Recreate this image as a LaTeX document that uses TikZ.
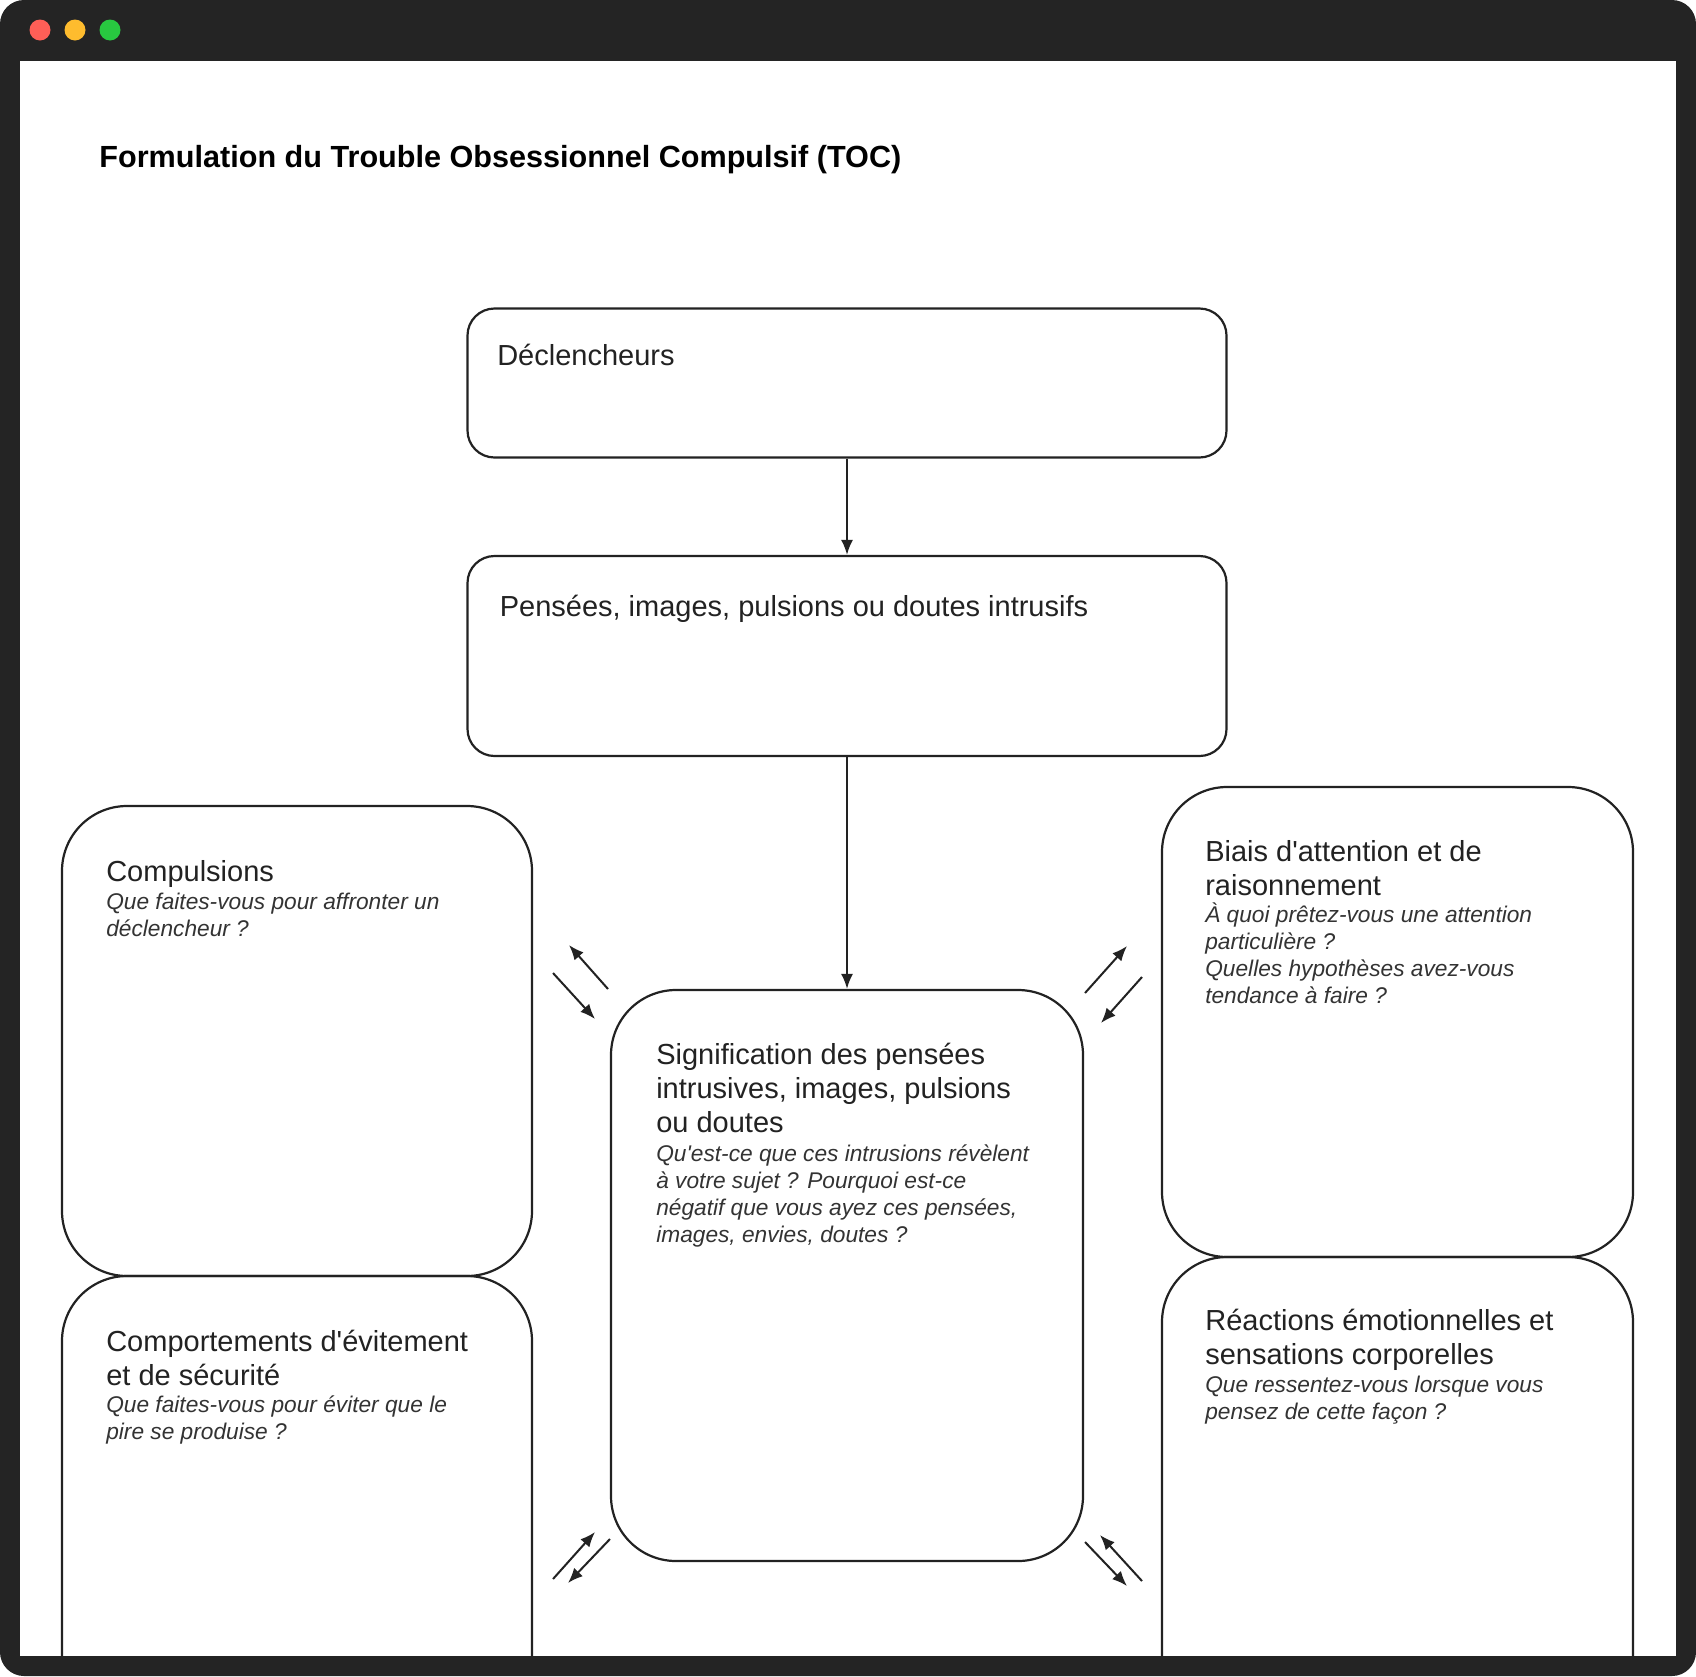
\documentclass[tikz,border=0pt]{standalone}
\usepackage{fontspec}
\setmainfont{Liberation Sans}
\usetikzlibrary{arrows.meta}

\definecolor{framegray}{RGB}{36,36,36}
\definecolor{dotred}{RGB}{255,95,87}
\definecolor{dotyellow}{RGB}{254,188,46}
\definecolor{dotgreen}{RGB}{40,200,64}
\definecolor{inkgray}{RGB}{34,34,34}
\definecolor{subgray}{RGB}{51,51,51}

\newcommand{\hdstrut}{\rule{0pt}{12pt}}
\newcommand{\qstrut}{\rule{0pt}{11pt}}

\begin{document}
\begin{tikzpicture}[x=0.5pt,y=-0.5pt,
  box/.style={draw=inkgray, line width=1.1pt, rounded corners=32.5pt, inner sep=0pt},
  topbox/.style={box, rounded corners=13.5pt, minimum width=379.5pt},
  dot/.style={circle, inner sep=0pt, minimum size=10.5pt},
  hdr/.style={anchor=north west, inner sep=0pt, align=left, text=inkgray, font=\fontsize{14.5pt}{17pt}\selectfont},
  sub/.style={anchor=north west, inner sep=0pt, align=left, text=subgray, font=\fontsize{11.35pt}{13.5pt}\selectfont\itshape},
  arr/.style={line width=1pt, draw=inkgray, -{Latex[length=7.5pt,width=6pt]}}]

% window frame
\useasboundingbox (0,0) rectangle (1696,1676);
\fill[framegray, rounded corners=12pt] (0,0) rectangle (1696,1676);
\fill[white] (20,61) rectangle (1676,1656);
\node[dot, fill=dotred] (red) at (40,30) {};
\node[dot, fill=dotyellow] (yellow) at (75,30) {};
\node[dot, fill=dotgreen] (green) at (110,30) {};

\node[anchor=base west, inner sep=0pt, font=\fontsize{15.3pt}{18pt}\selectfont\bfseries] (title) at (99,167)
  {Formulation du Trouble Obsessionnel Compulsif (TOC)};

\begin{scope}
\clip (20,61) rectangle (1676,1656);

% boxes
\node[topbox, minimum height=74.5pt] (decl) at (847,383) {};
\node[topbox, minimum height=100pt] (pens) at (847,656) {};
\node[box, minimum width=236pt, minimum height=285.5pt] (signif) at (847,1275.5) {};
\node[box, minimum width=235pt, minimum height=235pt] (compul) at (297,1041) {};
\node[box, minimum width=235pt, minimum height=235pt] (evit) at (297,1511) {};
\node[box, minimum width=235.5pt, minimum height=235pt] (biais) at (1397.5,1022) {};
\node[box, minimum width=235.5pt, minimum height=235pt] (emo) at (1397.5,1492) {};

% texts
\node[hdr] (decltxt) at ([shift={(30.5,34)}]decl.north west) {\hdstrut Déclencheurs};
\node[hdr] (penstxt) at ([shift={(33,37)}]pens.north west) {\hdstrut Pensées, images, pulsions ou doutes intrusifs};

\node[hdr] (compulhd) at ([shift={(45,52)}]compul.north west) {\hdstrut Compulsions};
\node[sub] (compulq) at ([shift={(45,82)}]compul.north west)
  {\qstrut Que faites-vous pour affronter un\\déclencheur~?};

\node[hdr] (evithd) at ([shift={(45,52)}]evit.north west)
  {\hdstrut Comportements d\textquotesingle évitement\\et de sécurité};
\node[sub] (evitq) at ([shift={(45,115)}]evit.north west)
  {\qstrut Que faites-vous pour éviter que le\\pire se produise~?};

\node[hdr] (signifhd) at ([shift={(46,51)}]signif.north west)
  {\hdstrut Signification des pensées\\intrusives, images, pulsions\\ou doutes};
\node[sub] (signifq) at ([shift={(46,150)}]signif.north west)
  {\qstrut Qu\textquotesingle est-ce que ces intrusions révèlent\\à votre sujet~? Pourquoi est-ce\\négatif que vous ayez ces pensées,\\images, envies, doutes~?};

\node[hdr] (biaishd) at ([shift={(44,51)}]biais.north west)
  {\hdstrut Biais d\textquotesingle attention et de\\raisonnement};
\node[sub] (biaisq) at ([shift={(44,114)}]biais.north west)
  {\qstrut À quoi prêtez-vous une attention\\particulière~?\\Quelles hypothèses avez-vous\\tendance à faire~?};

\node[hdr] (emohd) at ([shift={(44,50)}]emo.north west)
  {\hdstrut Réactions émotionnelles et\\sensations corporelles};
\node[sub] (emoq) at ([shift={(44,114)}]emo.north west)
  {\qstrut Que ressentez-vous lorsque vous\\pensez de cette façon~?};
\end{scope}

% flow
\draw[arr] (decl) -- (pens);
\draw[arr] (pens) -- (signif);

% arrow pairs between the boxes
\coordinate (tlA) at (608,989);  \coordinate (tlB) at (569,945);
\coordinate (tlC) at (553,973);  \coordinate (tlD) at (595,1019);
\coordinate (trA) at (1085,993); \coordinate (trB) at (1127,946);
\coordinate (trC) at (1142,977); \coordinate (trD) at (1101,1023);
\coordinate (blA) at (553,1579); \coordinate (blB) at (595,1532);
\coordinate (blC) at (610,1539); \coordinate (blD) at (568,1583);
\coordinate (brA) at (1085,1542); \coordinate (brB) at (1127,1586);
\coordinate (brC) at (1142,1581); \coordinate (brD) at (1100,1535);

\draw[arr] (tlA) -- (tlB);
\draw[arr] (tlC) -- (tlD);
\draw[arr] (trA) -- (trB);
\draw[arr] (trC) -- (trD);
\draw[arr] (blA) -- (blB);
\draw[arr] (blC) -- (blD);
\draw[arr] (brA) -- (brB);
\draw[arr] (brC) -- (brD);
\end{tikzpicture}
\end{document}
